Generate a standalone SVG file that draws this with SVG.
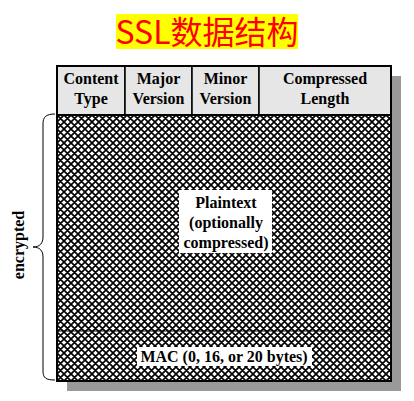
<svg xmlns="http://www.w3.org/2000/svg" width="414" height="401" viewBox="0 0 414 401">
<defs>
<pattern id="hatch" x="57" y="115" width="7" height="7" patternUnits="userSpaceOnUse">
<rect width="7" height="7" fill="#fff"/>
<path d="M0,0 L7,7 M7,0 L0,7 M-2,5 L2,9 M5,-2 L9,2 M-2,2 L2,-2 M5,9 L9,5" stroke="#000" stroke-width="1.7"/>
</pattern>
<style>
.hdr{font-family:"Liberation Serif",serif;font-weight:bold;font-size:16px;fill:#000;text-anchor:middle}
.lbl{font-family:"Liberation Serif",serif;font-weight:bold;font-size:16px;fill:#000;text-anchor:middle}
.cell{fill:#e6e6e6;stroke:#000;stroke-width:1.5}
</style>
</defs>
<rect width="414" height="401" fill="#fff"/>
<g id="title">
<rect x="116" y="14" width="182" height="35" fill="#ffff00"/>
<text x="207" y="44" font-family="'Noto Sans CJK SC',sans-serif" font-size="32" fill="#ff0000" text-anchor="middle">SSL数据结构</text>
</g>
<g id="record">
<rect x="67" y="76" width="334" height="315" fill="#999"/>
<rect x="57" y="115" width="334" height="266" fill="url(#hatch)"/>
<line x1="57" y1="331" x2="391" y2="331" stroke="#000" stroke-width="1"/>
<rect x="57" y="66" width="334" height="315" fill="none" stroke="#000" stroke-width="2"/>
</g>
<g id="header">
<rect class="cell" x="57" y="66" width="68" height="49"/>
<rect class="cell" x="125" y="66" width="67" height="49"/>
<rect class="cell" x="192" y="66" width="67" height="49"/>
<rect class="cell" x="259" y="66" width="132" height="49"/>
<line x1="57" y1="115" x2="391" y2="115" stroke="#000" stroke-width="2"/>
<rect x="57" y="66" width="334" height="49" fill="none" stroke="#000" stroke-width="2"/>
<text class="hdr" x="91" y="84">Content</text>
<text class="hdr" x="91" y="104">Type</text>
<text class="hdr" x="158.5" y="84">Major</text>
<text class="hdr" x="158.5" y="104">Version</text>
<text class="hdr" x="225.5" y="84">Minor</text>
<text class="hdr" x="225.5" y="104">Version</text>
<text class="hdr" x="325" y="84">Compressed</text>
<text class="hdr" x="325" y="104">Length</text>
</g>
<g id="plaintext">
<rect x="179" y="190" width="93" height="63" fill="#fff"/>
<text class="lbl" x="226" y="208">Plaintext</text>
<text class="lbl" x="226" y="228">(optionally</text>
<text class="lbl" x="226" y="248">compressed)</text>
</g>
<g id="mac">
<rect x="137" y="347" width="175" height="19" fill="#fff"/>
<text class="lbl" x="224" y="362">MAC (0, 16, or 20 bytes)</text>
</g>
<g id="connectors">
<path d="M55,114 C46,114 43,117 43,124 L43,237 C43,243 40,247 33,247 C40,247 43,251 43,257 L43,371 C43,378 46,380 55,380" fill="none" stroke="#000" stroke-width="1"/>
</g>
<g id="encrypted">
<text class="lbl" x="0" y="0" transform="translate(24,245) rotate(-90)">encrypted</text>
</g>
</svg>
